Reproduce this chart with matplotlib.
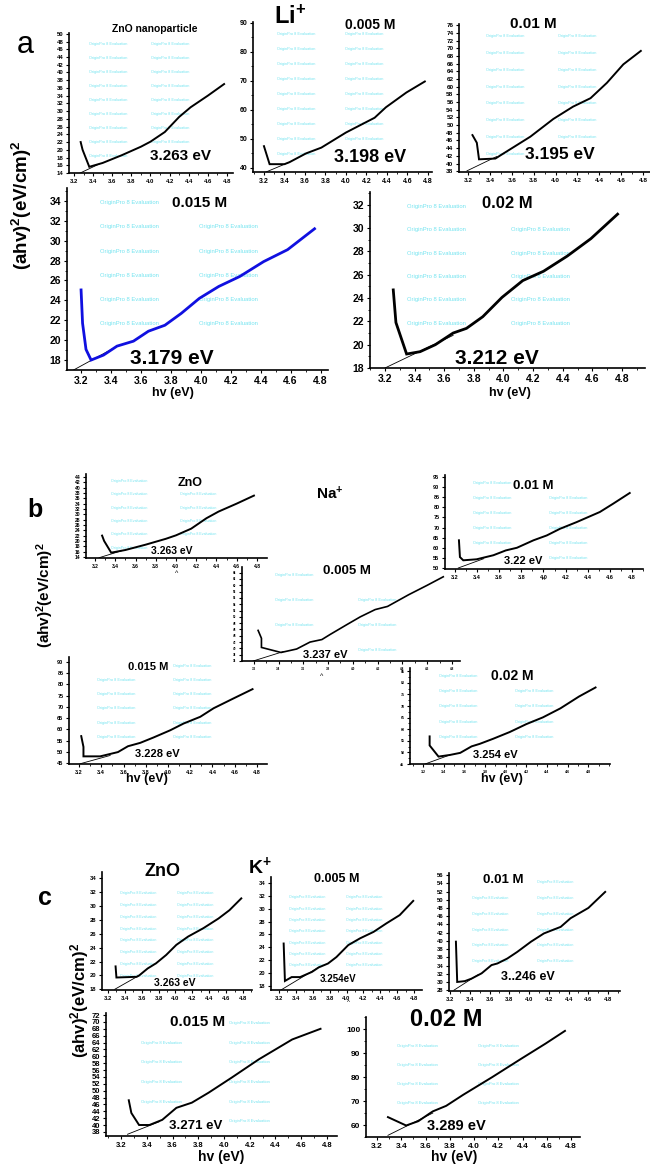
import matplotlib
matplotlib.use("Agg")
import matplotlib.pyplot as plt
from matplotlib.ticker import MultipleLocator, NullLocator

plt.rcParams['font.family'] = ['Liberation Sans', 'DejaVu Sans']
plt.rcParams['font.weight'] = 'bold'
plt.rcParams['mathtext.fontset'] = 'custom'
plt.rcParams['mathtext.rm'] = 'Liberation Sans:bold'
plt.rcParams['mathtext.bf'] = 'Liberation Sans:bold'
plt.rcParams['mathtext.default'] = 'rm'

# ---------------- (a) Li+ doped ZnO ----------------
zno_hv = [3.27, 3.29, 3.36, 3.50, 3.70, 3.90, 4.00, 4.15, 4.30, 4.42, 4.60, 4.77]
zno_ah = [22.0, 20.0, 15.6, 16.6, 18.6, 20.8, 22.1, 24.6, 28.5, 31.0, 34.0, 37.0]
zno_tan_hv = [3.24, 3.47]
zno_tan_ah = [13.7, 16.4]

li005_hv = [3.20, 3.255, 3.40, 3.45, 3.61, 3.76, 4.00, 4.28, 4.39, 4.59, 4.77]
li005_ah = [47.5, 41.3, 41.3, 42.0, 45.0, 47.0, 52.2, 57.3, 60.9, 66.0, 69.8]
li005_tan_hv = [3.22, 3.45]
li005_tan_ah = [38.6, 42.0]

li01_hv = [3.24, 3.28, 3.30, 3.45, 3.50, 3.77, 3.98, 4.16, 4.32, 4.47, 4.62, 4.78]
li01_ah = [47.4, 45.4, 41.1, 41.3, 42.2, 47.0, 51.6, 54.8, 57.0, 61.0, 65.8, 69.3]
li01_tan_hv = [3.19, 3.46]
li01_tan_ah = [38.1, 41.8]

li015_hv = [3.20, 3.21, 3.233, 3.267, 3.35, 3.44, 3.55, 3.65, 3.76, 3.87, 3.99,
            4.12, 4.26, 4.42, 4.58, 4.76]
li015_ah = [25.05, 21.7, 19.07, 18.0, 18.5, 19.4, 19.9, 20.9, 21.5, 22.7, 24.2,
            25.4, 26.4, 27.9, 29.1, 31.2]
li015_tan_hv = [3.15, 3.43]
li015_tan_ah = [17.0, 19.3]

li02_hv = [3.256, 3.274, 3.346, 3.437, 3.54, 3.66, 3.75, 3.86, 3.99, 4.13, 4.27,
           4.43, 4.59, 4.77]
li02_ah = [24.7, 21.9, 19.2, 19.4, 20.0, 21.0, 21.4, 22.4, 24.06, 25.5, 26.3,
           27.6, 29.1, 31.2]
li02_tan_hv = [3.20, 3.66]
li02_tan_ah = [18.0, 20.8]

# ---------------- (b) Na+ doped ZnO ----------------
na005_hv = [3.235, 3.262, 3.262, 3.42, 3.546, 3.654, 3.75, 3.816, 3.95, 4.06,
            4.18, 4.28, 4.45, 4.60, 4.73]
na005_ah = [45.7, 43.2, 40.3, 38.7, 39.8, 42.0, 42.8, 44.4, 47.5, 50.0,
            52.3, 53.3, 57.0, 60.0, 62.7]
na005_tan_hv = [3.195, 3.44]
na005_tan_ah = [36.0, 39.0]

na01_hv = [3.236, 3.245, 3.275, 3.396, 3.547, 3.66, 3.76, 3.91, 4.03, 4.15, 4.30,
           4.51, 4.63, 4.78]
na01_ah = [63.7, 55.4, 53.8, 54.3, 56.3, 58.7, 60.0, 63.7, 66.1, 69.4, 72.7,
           77.7, 81.8, 87.1]
na01_tan_hv = [3.23, 3.46]
na01_tan_ah = [50.0, 54.6]

na015_hv = [3.22, 3.24, 3.24, 3.39, 3.55, 3.64, 3.75, 3.87, 4.02, 4.14, 4.29,
            4.41, 4.59, 4.76]
na015_ah = [57.0, 52.2, 48.0, 48.0, 49.9, 52.5, 54.0, 56.4, 59.6, 62.6, 65.6,
            69.4, 73.8, 77.9]
na015_tan_hv = [3.21, 3.48]
na015_tan_ah = [44.7, 48.4]

na02_hv = [3.264, 3.264, 3.35, 3.46, 3.56, 3.67, 3.75, 3.88, 4.04, 4.20, 4.36,
           4.53, 4.71, 4.87]
na02_ah = [56.9, 53.0, 48.2, 48.9, 49.8, 52.6, 53.7, 55.9, 58.8, 62.2, 65.1,
           69.0, 74.1, 78.0]
na02_tan_hv = [3.22, 3.46]
na02_tan_ah = [45.0, 48.9]

# ---------------- (c) K+ doped ZnO ----------------
znoc_hv = [3.29, 3.30, 3.54, 3.57, 3.67, 3.77, 3.89, 4.01, 4.15, 4.33, 4.51,
           4.64, 4.78]
znoc_ah = [21.3, 19.7, 19.8, 20.0, 21.0, 21.75, 22.95, 24.4, 25.6, 26.8, 28.2,
           29.4, 31.1]
znoc_tan_hv = [3.28, 3.57]
znoc_tan_ah = [18.0, 20.0]

k005_hv = [3.255, 3.27, 3.35, 3.45, 3.59, 3.67, 3.78, 3.88, 4.02, 4.16, 4.32,
           4.47, 4.63, 4.79]
k005_ah = [24.6, 18.8, 19.4, 19.4, 20.2, 20.9, 21.5, 22.5, 24.35, 25.4, 26.4,
           27.7, 29.0, 31.2]
k005_tan_hv = [3.21, 3.68]
k005_tan_ah = [17.3, 21.0]

k01_hv = [3.26, 3.273, 3.35, 3.417, 3.52, 3.62, 3.68, 3.78, 3.88, 4.02, 4.15,
          4.32, 4.42, 4.60, 4.77]
k01_ah = [39.8, 30.0, 30.2, 30.8, 32.1, 34.1, 34.5, 35.7, 37.3, 39.8, 41.8,
          43.4, 45.5, 48.0, 51.9]
k01_tan_hv = [3.24, 3.48]
k01_tan_ah = [28.0, 31.7]

k015_hv = [3.26, 3.28, 3.34, 3.42, 3.52, 3.63, 3.75, 3.88, 4.06, 4.27, 4.53, 4.75]
k015_ah = [47.2, 43.5, 40.0, 40.0, 41.5, 45.0, 46.5, 49.4, 53.8, 59.1, 64.9, 68.0]
k015_tan_hv = [3.25, 3.50]
k015_tan_ah = [37.3, 41.0]

k02_hv = [3.29, 3.44, 3.54, 3.63, 3.66, 3.77, 3.91, 4.15, 4.39, 4.59, 4.75]
k02_ah = [63.3, 59.8, 61.6, 64.7, 65.7, 68.0, 72.6, 80.0, 87.7, 94.0, 99.3]
k02_tan_hv = [3.29, 3.66]
k02_tan_ah = [55.7, 65.0]

x_ticks = [3.2, 3.4, 3.6, 3.8, 4.0, 4.2, 4.4, 4.6, 4.8]

W, H = 650, 1167
fig = plt.figure(figsize=(W / 100, H / 100), dpi=100)
WM_COLOR = '#74e4f0'
annotations = []
watermarks = []
panels = []


def px(x, y):
    return x / W, 1 - y / H


def label(x, y, s, size, weight='bold', **kw):
    fx, fy = px(x, y)
    t = fig.text(fx, fy, s, fontsize=size, fontweight=weight,
                 ha='center', va='center', **kw)
    annotations.append(t)
    return t


def panel(box, hv, ah, tan_hv, tan_ah, xlim, ylim, ystep, fs,
          yminor=None, color='black', lw=1.4, rows=8, wm_fs=3.0):
    l, t, r, b = box
    ax = fig.add_axes([l / W, 1 - b / H, (r - l) / W, (b - t) / H])
    ax.patch.set_alpha(0)
    for s in ('top', 'right'):
        ax.spines[s].set_visible(False)
    for s in ('left', 'bottom'):
        ax.spines[s].set_linewidth(1.2)
    ax.set_xlim(*xlim)
    ax.set_ylim(*ylim)
    ax.set_xticks(x_ticks)
    ax.xaxis.set_minor_locator(MultipleLocator(0.1))
    ax.yaxis.set_major_locator(MultipleLocator(ystep))
    if yminor:
        ax.yaxis.set_minor_locator(MultipleLocator(yminor))
    else:
        ax.yaxis.set_minor_locator(NullLocator())
    ax.tick_params(which='major', direction='out', length=2.5, width=0.8,
                   labelsize=fs, pad=1.5)
    ax.tick_params(which='minor', direction='out', length=1.4, width=0.6)
    for lab in ax.get_xticklabels() + ax.get_yticklabels():
        lab.set_fontweight('bold')
    # evaluation watermark rows
    for i in range(rows):
        yy = 0.92 - i * (0.80 / max(rows - 1, 1))
        for xx in (0.24, 0.62):
            wm = ax.text(xx, yy, 'OriginPro 8 Evaluation', transform=ax.transAxes,
                         fontsize=wm_fs, color=WM_COLOR, ha='center', va='center',
                         fontweight='normal', clip_on=True, zorder=0)
            watermarks.append(wm)
    ax.plot(tan_hv, tan_ah, color='black', lw=0.6, zorder=2)
    ax.plot(hv, ah, color=color, lw=lw, zorder=3, solid_joinstyle='miter')
    panels.append(ax)
    return ax


# ----- section (a) -----
panel((69, 33, 233, 173), zno_hv, zno_ah, zno_tan_hv, zno_tan_ah,
      (3.148, 4.863), (14, 50.2), 2, 4.3, rows=9, wm_fs=2.8)
panel((253, 22, 432, 172), li005_hv, li005_ah, li005_tan_hv, li005_tan_ah,
      (3.093, 4.84), (38.6, 90.3), 10, 5.0, yminor=5, rows=9, wm_fs=2.8)
panel((459, 24, 650, 172), li01_hv, li01_ah, li01_tan_hv, li01_tan_ah,
      (3.117, 4.864), (37.8, 76.3), 2, 4.6, rows=8, wm_fs=2.8)
panel((67, 188, 328, 370), li015_hv, li015_ah, li015_tan_hv, li015_tan_ah,
      (3.106, 4.85), (17.0, 35.3), 2, 7.5, yminor=1, color='#1010e0',
      lw=2.0, rows=7, wm_fs=4.2)
panel((370, 192, 645, 368), li02_hv, li02_ah, li02_tan_hv, li02_tan_ah,
      (3.099, 4.955), (18.0, 33.1), 2, 7.5, yminor=1, lw=2.0, rows=7, wm_fs=4.2)

label(25, 45, 'a', 22, weight='normal')
label(155, 29, 'ZnO nanoparticle', 7.5)
label(290, 17, 'Li$^{+}$', 17)
label(370, 25, '0.005 M', 10)
label(533, 24, '0.01 M', 11)
label(200, 203, '0.015 M', 11)
label(507, 203, '0.02 M', 12)
label(180, 156, '3.263 eV', 11)
label(370, 157, '3.198 eV', 13)
label(560, 155, '3.195 eV', 12.5)
label(172, 358, '3.179 eV', 15)
label(497, 358, '3.212 eV', 15)
label(173, 393, 'hv (eV)', 9)
label(510, 393, 'hv (eV)', 9)
label(22, 205, '(ahv)$^{2}$(eV/cm)$^{2}$', 13.5, rotation=90)

# ----- section (b) -----
panel((86, 474, 267, 558), zno_hv, zno_ah, zno_tan_hv, zno_tan_ah,
      (3.111, 4.899), (13.6, 45.1), 2, 3.6, rows=6, wm_fs=2.6)
panel((445, 475, 643, 569), na01_hv, na01_ah, na01_tan_hv, na01_tan_ah,
      (3.110, 4.90), (49.5, 96.0), 5, 4.0, rows=6, wm_fs=2.8)
panel((242, 567, 460, 661), na005_hv, na005_ah, na005_tan_hv, na005_tan_ah,
      (3.105, 4.865), (36.0, 65.8), 2, 2.2, lw=1.2, rows=4, wm_fs=2.8)
panel((69, 657, 267, 764), na015_hv, na015_ah, na015_tan_hv, na015_tan_ah,
      (3.110, 4.89), (44.6, 92.2), 5, 4.0, rows=7, wm_fs=2.8)
panel((410, 668, 610, 764), na02_hv, na02_ah, na02_tan_hv, na02_tan_ah,
      (3.074, 5.01), (45.0, 86.4), 5, 2.6, yminor=2.5, rows=6, wm_fs=2.8)

label(35, 510, 'b', 18)
label(190, 483, 'ZnO', 9)
label(172, 551, '3.263 eV', 7.5)
label(177, 573, '^', 5, weight='normal')
label(330, 494, 'Na$^{+}$', 11)
label(533, 486, '0.01 M', 9.5)
label(523, 561, '3.22 eV', 8)
label(544, 581, '^', 5, weight='normal')
label(347, 571, '0.005 M', 9.5)
label(325, 655, '3.237 eV', 8)
label(322, 676, '^', 5, weight='normal')
label(148, 667, '0.015 M', 8)
label(157, 754, '3.228 eV', 8)
label(147, 779, 'hv (eV)', 9)
label(512, 676, '0.02 M', 10)
label(495, 755, '3.254 eV', 8)
label(502, 779, 'hv (eV)', 9)
label(45, 595, '(ahv)$^{2}$(eV/cm)$^{2}$', 11, rotation=90)

# ----- section (c) -----
panel((102, 872, 252, 990), znoc_hv, znoc_ah, znoc_tan_hv, znoc_tan_ah,
      (3.129, 4.907), (17.9, 34.9), 2, 4.2, rows=9, wm_fs=2.6)
panel((271, 877, 422, 990), k005_hv, k005_ah, k005_tan_hv, k005_tan_ah,
      (3.105, 4.894), (17.4, 34.9), 2, 4.2, rows=9, wm_fs=2.6)
panel((449, 873, 620, 991), k01_hv, k01_ah, k01_tan_hv, k01_tan_ah,
      (3.19, 4.92), (27.8, 56.5), 2, 4.2, rows=7, wm_fs=2.6)
panel((106, 1013, 337, 1136), k015_hv, k015_ah, k015_tan_hv, k015_tan_ah,
      (3.083, 4.878), (36.8, 72.6), 2, 5.5, rows=6, wm_fs=3.0)
panel((366, 1017, 580, 1137), k02_hv, k02_ah, k02_tan_hv, k02_tan_ah,
      (3.109, 4.874), (55.0, 105.1), 10, 6.0, yminor=5, rows=6, wm_fs=3.0)

label(45, 898, 'c', 18)
label(163, 872, 'ZnO', 13)
label(175, 983, '3.263 eV', 7.5)
label(260, 866, 'K$^{+}$', 14)
label(337, 879, '0.005 M', 9)
label(338, 979, '3.254eV', 7)
label(348, 1003, '^', 4.5, weight='normal')
label(503, 880, '0.01 M', 9.5)
label(528, 977, '3..246 eV', 9)
label(80, 1000, '(ahv)$^{2}$(eV/cm)$^{2}$', 12, rotation=90)
label(198, 1022, '0.015 M', 11)
label(196, 1126, '3.271 eV', 9.5)
label(221, 1157, 'hv (eV)', 10)
label(446, 1020, '0.02 M', 17)
label(456, 1126, '3.289 eV', 10.5)
label(454, 1157, 'hv (eV)', 10)

# keep the faint watermark rows from running underneath annotations and ticks
fig.canvas.draw()
renderer = fig.canvas.get_renderer()
blockers = [t.get_window_extent(renderer) for t in annotations]
for ax in panels:
    for lab in ax.get_xticklabels() + ax.get_yticklabels():
        if lab.get_visible() and lab.get_text():
            blockers.append(lab.get_window_extent(renderer))
for wm in watermarks:
    bb = wm.get_window_extent(renderer)
    if any(bb.overlaps(o) for o in blockers):
        wm.remove()

fig.savefig('out.png', dpi=100)
